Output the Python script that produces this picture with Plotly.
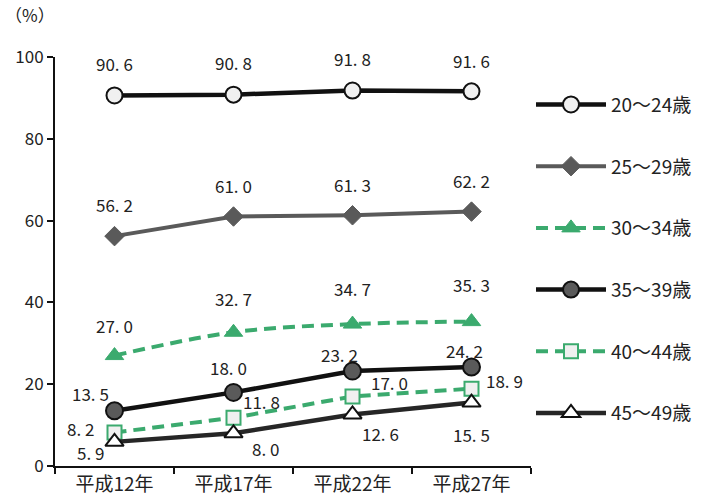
import plotly.graph_objects as go

# Survey years (x categories)
years = ["平成12年", "平成17年", "平成22年", "平成27年"]

# Rates (%) by age group
age_20_24 = [90.6, 90.8, 91.8, 91.6]
age_25_29 = [56.2, 61.0, 61.3, 62.2]
age_30_34 = [27.0, 32.7, 34.7, 35.3]
age_35_39 = [13.5, 18.0, 23.2, 24.2]
age_40_44 = [8.2, 11.8, 17.0, 18.9]
age_45_49 = [5.9, 8.0, 12.6, 15.5]

series_names = ["20～24歳", "25～29歳", "30～34歳", "35～39歳", "40～44歳", "45～49歳"]
series_values = [age_20_24, age_25_29, age_30_34, age_35_39, age_40_44, age_45_49]

GREEN = "#3BAA6E"
FONT = "Noto Sans CJK JP"

styles = [
    dict(line=dict(color="#111111", width=4.5),
         marker=dict(symbol="circle", size=16, color="#F0F0F0",
                     line=dict(color="#111111", width=2))),
    dict(line=dict(color="#5A5A5A", width=4),
         marker=dict(symbol="diamond", size=15, color="#5A5A5A",
                     line=dict(color="#5A5A5A", width=1))),
    dict(line=dict(color=GREEN, width=4, dash="12px,7px", shape="spline"),
         marker=dict(symbol="triangle-up", size=16, color=GREEN,
                     line=dict(color=GREEN, width=1))),
    dict(line=dict(color="#111111", width=4.5),
         marker=dict(symbol="circle", size=17, color="#5A5A5A",
                     line=dict(color="#111111", width=2))),
    dict(line=dict(color=GREEN, width=4, dash="12px,7px"),
         marker=dict(symbol="square", size=14, color="#F0F0F0",
                     line=dict(color=GREEN, width=2))),
    dict(line=dict(color="#262626", width=4.5),
         marker=dict(symbol="triangle-up", size=16, color="#FFFFFF",
                     line=dict(color="#111111", width=2))),
]

# Pixel offsets of each value label from its point
label_offsets = [
    [(0, 32), (0, 32), (0, 32), (0, 31)],
    [(0, 32), (0, 31), (0, 31), (0, 31)],
    [(0, 30), (0, 34), (0, 36), (0, 37)],
    [(-24, 17), (-5, 25), (-13, 17), (-7, 17)],
    [(-34, 4), (28, 16), (37, 14), (33, 8)],
    [(-24, -11), (32, -15), (28, -19), (0, -32)],
]

fig = go.Figure()
for name, vals, st in zip(series_names, series_values, styles):
    fig.add_trace(go.Scatter(x=years, y=vals, name=name, mode="lines+markers",
                             legendgroup=name, **st))

for vals, offs in zip(series_values, label_offsets):
    for x, v, (dx, dy) in zip(years, vals, offs):
        fig.add_annotation(x=x, y=v, text=f"{v:.1f}".replace(".", ". "),
                           showarrow=False, xshift=dx, yshift=dy,
                           font=dict(family=FONT, size=17, color="#222222"))

fig.add_annotation(xref="paper", yref="paper", x=-0.052, y=1.068,
                   xanchor="center", yanchor="bottom", text="（%）",
                   showarrow=False,
                   font=dict(family=FONT, size=17, color="#222222"))

fig.update_layout(
    width=709, height=504,
    margin=dict(l=55, r=176, t=57, b=38),
    paper_bgcolor="white", plot_bgcolor="white",
    font=dict(family=FONT, size=17, color="#222222"),
    showlegend=True,
    legend=dict(x=1.0, y=0.93, xanchor="left", yanchor="top",
                font=dict(family=FONT, size=19, color="#222222"),
                itemwidth=70, tracegroupgap=34, bgcolor="rgba(0,0,0,0)"),
    xaxis=dict(type="category", range=[-0.5, 3.5], showgrid=False,
               automargin=False,
               showline=True, linecolor="#111111", linewidth=2,
               ticks="outside", tickson="boundaries", ticklen=6,
               tickcolor="#111111", tickwidth=1.5,
               tickfont=dict(family=FONT, size=19, color="#222222")),
    yaxis=dict(range=[0, 100], dtick=20, showgrid=False, zeroline=False,
               automargin=False,
               showline=True, linecolor="#111111", linewidth=2,
               ticks="outside", ticklen=6, tickcolor="#111111", tickwidth=1.5,
               tickfont=dict(family=FONT, size=17, color="#222222")),
)

fig.write_html("out.html")
